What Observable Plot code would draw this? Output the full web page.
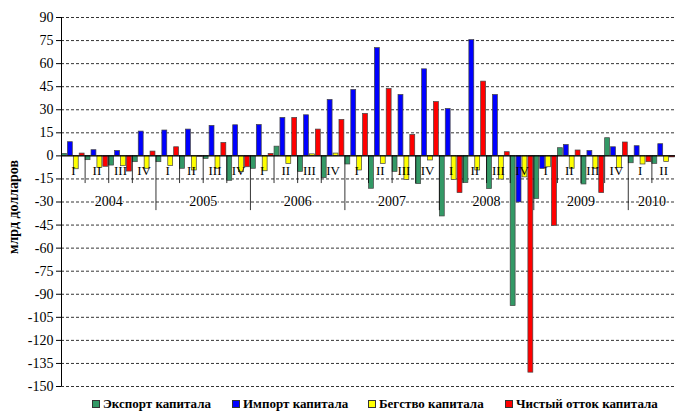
<!DOCTYPE html>
<html>
<head>
<meta charset="utf-8">
<script src="https://cdn.jsdelivr.net/npm/d3@7"></script>
<script src="https://cdn.jsdelivr.net/npm/@observablehq/plot@0.6"></script>
<style>
  body { margin: 0; background: #fff; font-family: "Liberation Serif", "Times New Roman", "DejaVu Serif", serif; }
  #wrap { position: relative; width: 675px; height: 412px; }
  #chart svg text { font-family: "Liberation Serif", "Times New Roman", "DejaVu Serif", serif; }
  #legend { position: absolute; left: 0; top: 395px; width: 675px; height: 17px; }
  .item { position: absolute; top: 0; display: flex; align-items: center; font-weight: bold; font-size: 13px; line-height: 17px; color: #000; white-space: nowrap; }
  .sw { width: 6px; height: 6px; border: 1px solid #333; margin-right: 3px; }
</style>
</head>
<body>
<div id="wrap"><div id="chart"></div><div id="legend"></div></div>
<script>
const quarterLabels = ["I","II","III","IV","I","II","III","IV","I","II","III","IV","I","II","III","IV","I","II","III","IV","I","II","III","IV","I","II"];
const years = ["2004","2005","2006","2007","2008","2009","2010"];
const seriesNames = ["Экспорт капитала","Импорт капитала","Бегство капитала","Чистый отток капитала"];
const seriesColors = ["#339966","#0000FF","#FFFF00","#FF0000"];
const exportCap = [1.3,-2.8,-6.3,-4.1, -4.1,-8.4,-2,-16.2, -8.4,6,-10.4,-14.5, -5.6,-21.4,-10.4,-18.4, -39.4,-17.7,-21.6,-97.7, -28,5,-18.6,11.5, -4.8,-5.2];
const importCap = [8.9,3.7,3.2,15.8, 16.5,17.1,19.5,19.9, 20.1,24.7,26.4,36.4, 42.9,70.1,39.6,56.3, 30.5,75.3,39.6,-30.3, -8.5,7.1,3.2,5.6, 6.3,7.6];
const flightCap = [-8.7,-7.8,-6.7,-8.4, -6.5,-9.5,-8.4,-10.6, -10,-5.2,1,1.5, -9.5,-5.2,-15.6,-3, -15.6,-9.5,-15.4,-14, -7.4,-8.4,-8.4,-8, -5.6,-3.9];
const netOutflow = [1.5,-7.1,-10.2,2.8, 5.6,-0.5,8.4,-7.4, 1.3,24.7,17.1,23.4, 27.3,43.5,13.6,35, -24.2,48.3,2.4,-141, -45.5,3.5,-24.2,8.7, -4.1,-1];
const yTicks = d3.range(-150, 91, 15);

const seriesValues = [exportCap, importCap, flightCap, netOutflow];
const data = [];
quarterLabels.forEach((q, qi) => {
  seriesValues.forEach((vals, si) => {
    data.push({qi, si, series: seriesNames[si], value: vals[qi]});
  });
});
const quarters = quarterLabels.map((q, qi) => ({qi, label: q}));
const yearRows = years.map((y, i) => ({label: y, first: i * 4, last: Math.min(i * 4 + 4, quarterLabels.length)}));
const boundaries = d3.range(1, quarterLabels.length).map(b => ({b, isYear: b % 4 === 0}));
const serif = "'Liberation Serif', 'Times New Roman', serif";

const chart = Plot.plot({
  width: 675, height: 398,
  marginLeft: 61, marginRight: 0, marginTop: 17, marginBottom: 12,
  style: {fontFamily: serif, fontSize: "14px", color: "#000", background: "#fff", overflow: "visible"},
  x: {domain: [0, quarterLabels.length], axis: null},
  y: {domain: [-150, 90], axis: null},
  color: {domain: seriesNames, range: seriesColors},
  marks: [
    Plot.ruleY(yTicks.filter(t => t !== 0), {stroke: "#000", strokeWidth: 0.8, strokeDasharray: "3,2"}),
    Plot.rect(data, {
      x1: d => d.qi + d.si * 0.25, x2: d => d.qi + (d.si + 1) * 0.25,
      y1: 0, y2: "value", fill: "series",
      stroke: "#444", strokeWidth: 0.7, insetLeft: 0.5, insetRight: 0.5
    }),
    Plot.ruleY([0], {stroke: "#000", strokeWidth: 1.2}),
    Plot.ruleX(boundaries, {x: "b", y1: 0, y2: d => d.isYear ? -35.6 : -18, stroke: "#000", strokeWidth: 0.8}),
    Plot.text(quarters, {x: d => d.qi + 0.5, y: -10, text: "label", fontSize: 13}),
    Plot.text(yearRows, {x: d => (d.first + d.last) / 2, y: -30, text: "label", fontSize: 14, stroke: "#fff", strokeWidth: 2, fill: "#000"}),
    Plot.ruleX([0], {stroke: "#000", strokeWidth: 1}),
    Plot.axisY({ticks: yTicks, tickFormat: d => String(d), tickSize: 5, tickPadding: 3, fontSize: 14, label: null}),
    Plot.text(["млрд долларов"], {frameAnchor: "left", textAnchor: "middle", rotate: -90, dx: -48, dy: 5, text: d => d, fontWeight: "bold", fontSize: 14})
  ]
});
document.getElementById("chart").appendChild(chart);

const legend = document.getElementById("legend");
const lefts = [92, 232, 368, 505];
seriesNames.forEach((name, i) => {
  const item = document.createElement("div");
  item.className = "item";
  item.style.left = lefts[i] + "px";
  const sw = document.createElement("span");
  sw.className = "sw";
  sw.style.background = seriesColors[i];
  item.appendChild(sw);
  item.appendChild(document.createTextNode(name));
  legend.appendChild(item);
});
</script>
</body>
</html>
